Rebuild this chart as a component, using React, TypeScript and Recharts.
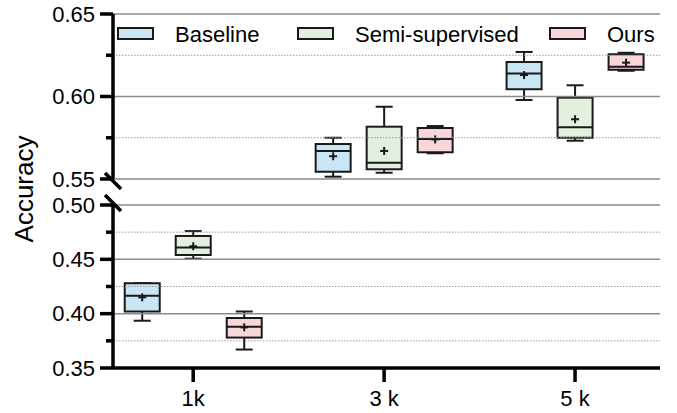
import React from 'react';
import { ComposedChart, Bar, XAxis, YAxis, ReferenceLine } from 'recharts';

const FONT = '"Liberation Sans", Arial, sans-serif';

const categories = ['1k', '3 k', '5 k'];
const sizes = [1, 3, 5];
const seriesKeys = ['baseline', 'semi', 'ours'];
const seriesNames = ['Baseline', 'Semi-supervised', 'Ours'];
const seriesColors = ['#c9e6f5', '#e2f1dd', '#f8d6d9'];

// [min, q1, median, q3, max, mean] per size
const baseline = [
  [0.3935, 0.402, 0.4165, 0.428, 0.428, 0.415],
  [0.5514, 0.5544, 0.567, 0.5712, 0.575, 0.5638],
  [0.5979, 0.6044, 0.614, 0.6209, 0.627, 0.613],
];
const semi = [
  [0.4506, 0.454, 0.461, 0.4715, 0.476, 0.462],
  [0.5538, 0.5559, 0.5599, 0.5817, 0.5938, 0.567],
  [0.5732, 0.575, 0.5813, 0.5993, 0.6068, 0.5862],
];
const ours = [
  [0.367, 0.378, 0.388, 0.396, 0.402, 0.3874],
  [0.5656, 0.5662, 0.5742, 0.5809, 0.5821, 0.574],
  [0.6156, 0.6162, 0.618, 0.6256, 0.6265, 0.6205],
];

const topTicks = [0.55, 0.575, 0.6, 0.625, 0.65];
const bottomTicks = [0.35, 0.375, 0.4, 0.425, 0.45, 0.475, 0.5];
const majorTicks = [0.35, 0.4, 0.45, 0.5, 0.55, 0.6, 0.65];

const allStats: Record<string, number[][]> = { baseline, semi, ours };

const isMajor = (v: number) => majorTicks.some((m) => Math.abs(m - v) < 1e-9);

// rows for one panel: only boxes whose mean falls inside [lo, hi]
const buildRows = (lo: number, hi: number) =>
  sizes.map((s, i) => {
    const row: any = { x: s };
    seriesKeys.forEach((k) => {
      const st = allStats[k][i];
      row[k] = st[5] >= lo && st[5] <= hi ? st : null;
    });
    return row;
  });

const topRows = buildRows(0.55, 0.65);
const bottomRows = buildRows(0.35, 0.5);

const STROKE = '#1a1a1a';
const SW = 2;

const renderBox = (props: any, key: string, fill: string) => {
  const { x, y, width, height, payload } = props;
  const st = payload && payload[key];
  if (!st || width == null) return <g />;
  const [mn, q1, med, q3, mx, mean] = st;
  const py = (v: number) => y + ((q3 - v) / (q3 - q1)) * height;
  const cx = x + width / 2;
  const cap = 8.5;
  const my = py(mean);
  return (
    <g>
      <line x1={cx} x2={cx} y1={py(mx)} y2={py(q3)} stroke={STROKE} strokeWidth={SW} />
      <line x1={cx} x2={cx} y1={py(q1)} y2={py(mn)} stroke={STROKE} strokeWidth={SW} />
      <line x1={cx - cap} x2={cx + cap} y1={py(mx)} y2={py(mx)} stroke={STROKE} strokeWidth={SW} />
      <line x1={cx - cap} x2={cx + cap} y1={py(mn)} y2={py(mn)} stroke={STROKE} strokeWidth={SW} />
      <rect x={x} y={py(q3)} width={width} height={py(q1) - py(q3)} fill={fill} stroke={STROKE} strokeWidth={SW} />
      <line x1={x} x2={x + width} y1={py(med)} y2={py(med)} stroke={STROKE} strokeWidth={SW} />
      <line x1={cx - 4} x2={cx + 4} y1={my} y2={my} stroke={STROKE} strokeWidth={SW} />
      <line x1={cx} x2={cx} y1={my - 4} y2={my + 4} stroke={STROKE} strokeWidth={SW} />
    </g>
  );
};

const renderYTick = (props: any) => {
  const { x, y, payload } = props;
  const v = payload.value;
  const major = isMajor(v);
  return (
    <g>
      <line x1={x - (major ? 13 : 7)} x2={x} y1={y} y2={y} stroke="#000" strokeWidth={3.5} />
      {major && (
        <text x={x - 18} y={y} dy="0.355em" textAnchor="end" fontSize={22} fontFamily={FONT} fill="#000">
          {v.toFixed(2)}
        </text>
      )}
    </g>
  );
};

const renderXTick = (props: any) => {
  const { x, y, payload } = props;
  return (
    <g>
      <rect x={x - 1.75} y={y - 22} width={3.5} height={14} fill="#000" />
      <text x={x} y={y} dy="0.71em" textAnchor="middle" fontSize={22} fontFamily={FONT} fill="#000">
        {categories[sizes.indexOf(payload.value)]}
      </text>
    </g>
  );
};

const xDomain = [0.16, 5.89];

const gridLines = (ticks: number[], skipFirst: boolean) =>
  ticks
    .filter((t, i) => !(skipFirst && i === 0))
    .map((t) => (
      <ReferenceLine
        key={`g${t}`}
        y={t}
        stroke={isMajor(t) ? '#8a8a8a' : '#9a9a9a'}
        strokeWidth={isMajor(t) ? 1.5 : 1}
        strokeDasharray={isMajor(t) ? undefined : '1.5 1.5'}
      />
    ));

const boxes = () =>
  seriesKeys.map((k, i) => (
    <Bar
      key={k}
      dataKey={(d: any) => (d[k] ? [d[k][1], d[k][3]] : null)}
      barSize={35}
      isAnimationActive={false}
      shape={(p: any) => renderBox(p, k, seriesColors[i])}
    />
  ));

const legendLeft = [118, 298, 550];

export default function App() {
  return (
    <div style={{ position: 'absolute', left: 0, top: 0, width: 677, height: 413, background: '#fff', overflow: 'hidden' }}>
      <div style={{ position: 'absolute', left: 0, top: 0 }}>
        <ComposedChart width={677} height={192} data={topRows} barGap={16} margin={{ top: 14, right: 17, bottom: 13, left: 53 }}>
          <XAxis type="number" dataKey="x" domain={xDomain} ticks={sizes} hide />
          <YAxis
            type="number"
            domain={[0.55, 0.65]}
            ticks={topTicks}
            interval={0}
            width={60}
            tickSize={0}
            tickMargin={0}
            tickLine={false}
            tick={renderYTick}
            axisLine={{ stroke: '#000', strokeWidth: 3.5 }}
          />
          {gridLines(topTicks, false)}
          {boxes()}
        </ComposedChart>
      </div>
      <div style={{ position: 'absolute', left: 0, top: 192 }}>
        <ComposedChart width={677} height={221} data={bottomRows} barGap={16} margin={{ top: 13, right: 17, bottom: 5, left: 53 }}>
          <XAxis
            type="number"
            dataKey="x"
            domain={xDomain}
            ticks={sizes}
            interval={0}
            height={40}
            tickSize={0}
            tickMargin={22}
            tickLine={false}
            tick={renderXTick}
            axisLine={{ stroke: '#000', strokeWidth: 3.5 }}
          />
          <YAxis
            type="number"
            domain={[0.35, 0.5]}
            ticks={bottomTicks}
            interval={0}
            width={60}
            tickSize={0}
            tickMargin={0}
            tickLine={false}
            tick={renderYTick}
            axisLine={{ stroke: '#000', strokeWidth: 3.5 }}
          />
          {gridLines(bottomTicks, true)}
          {boxes()}
        </ComposedChart>
      </div>
      <svg width={60} height={413} style={{ position: 'absolute', left: 0, top: 0 }}>
        <text x={0} y={0} transform="translate(33,189) rotate(-90)" textAnchor="middle" fontSize={26} fontFamily={FONT} fill="#000">
          Accuracy
        </text>
      </svg>
      <svg width={30} height={50} style={{ position: 'absolute', left: 98, top: 168 }}>
        <line x1={7} y1={5} x2={23} y2={21} stroke="#000" strokeWidth={3.5} />
        <line x1={7} y1={27} x2={23} y2={43} stroke="#000" strokeWidth={3.5} />
      </svg>
      <svg width={560} height={24} style={{ position: 'absolute', left: 110, top: 22 }}>
        {seriesNames.map((n, i) => (
          <g key={n}>
            <rect x={legendLeft[i] - 110} y={6} width={35} height={11} fill={seriesColors[i]} stroke={STROKE} strokeWidth={SW} />
            <text x={legendLeft[i] - 110 + 57} y={19.5} fontSize={22} fontFamily={FONT} fill="#000">
              {n}
            </text>
          </g>
        ))}
      </svg>
    </div>
  );
}
